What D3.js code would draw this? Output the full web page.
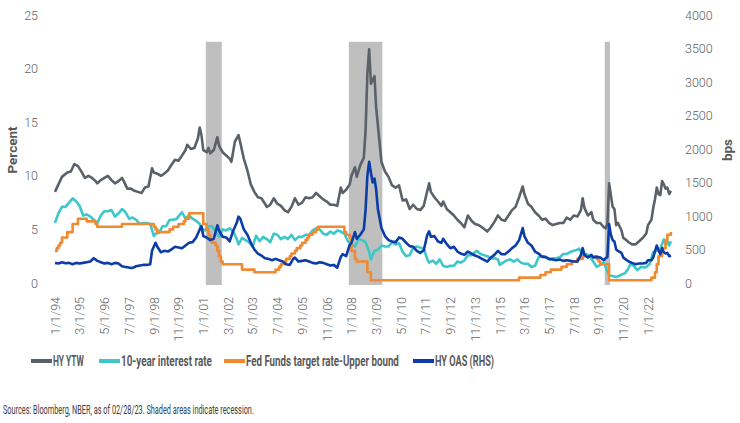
<!DOCTYPE html>
<html>
<head>
<meta charset="utf-8">
<script src="https://cdn.jsdelivr.net/npm/d3@7"></script>
<style>
  body { margin: 0; background: #fff; }
  svg { display: block; }
  text { font-family: "Liberation Sans Narrow", "Roboto", "Liberation Sans", sans-serif; }
</style>
</head>
<body>
<svg id="chart" width="740" height="423"></svg>
<script>
// HY YTW, percent (left axis)
var hyYtw = [
  ["1994-01",8.5],["1994-03",9.2],["1994-05",9.9],["1994-08",10.3],["1994-10",10.4],["1994-12",11.1],
  ["1995-02",10.9],["1995-04",10.4],["1995-06",9.8],["1995-08",10.0],["1995-10",9.8],["1995-12",9.5],
  ["1996-01",9.3],["1996-03",9.6],["1996-05",9.8],["1996-07",10.0],["1996-09",9.6],["1996-11",9.3],
  ["1997-01",9.5],["1997-03",9.8],["1997-04",9.5],["1997-06",8.8],["1997-08",8.8],["1997-10",8.6],["1997-12",8.5],
  ["1998-02",8.4],["1998-04",8.9],["1998-06",9.0],["1998-08",10.7],["1998-09",10.3],["1998-11",10.2],
  ["1999-01",10.0],["1999-03",10.2],["1999-05",10.5],["1999-07",11.0],["1999-09",11.5],["1999-11",11.4],
  ["2000-01",11.9],["2000-03",12.4],["2000-04",12.9],["2000-06",12.5],["2000-08",12.6],["2000-10",13.5],["2000-11",14.5],["2000-12",13.8],
  ["2001-01",12.4],["2001-03",12.2],["2001-04",12.6],["2001-05",12.1],["2001-07",12.4],["2001-09",13.6],["2001-10",12.8],["2001-12",12.2],
  ["2002-02",11.9],["2002-04",11.6],["2002-05",11.3],["2002-07",13.2],["2002-09",13.8],["2002-10",13.1],["2002-12",11.6],
  ["2003-02",10.5],["2003-04",9.2],["2003-06",8.5],["2003-08",8.0],["2003-10",7.9],["2003-12",7.4],
  ["2004-01",7.1],["2004-03",7.3],["2004-05",7.9],["2004-07",7.4],["2004-09",7.2],["2004-11",6.8],
  ["2005-01",6.6],["2005-03",7.1],["2005-05",7.9],["2005-07",7.3],["2005-09",7.5],["2005-11",8.0],
  ["2006-01",7.9],["2006-03",8.0],["2006-05",8.4],["2006-07",8.1],["2006-09",7.8],["2006-11",7.6],
  ["2007-01",7.3],["2007-03",7.3],["2007-05",7.2],["2007-07",8.9],["2007-08",8.4],["2007-10",8.7],["2007-12",9.2],
  ["2008-01",10.0],["2008-03",10.8],["2008-04",9.9],["2008-06",11.0],["2008-08",11.7],["2008-09",14.3],["2008-10",19.5],["2008-11",21.8],["2008-12",18.6],
  ["2009-01",18.9],["2009-02",19.3],["2009-03",16.4],["2009-05",13.0],["2009-06",11.3],["2009-08",10.4],["2009-10",9.9],["2009-12",9.1],
  ["2010-02",8.9],["2010-04",9.1],["2010-06",7.7],["2010-08",7.8],["2010-10",6.9],["2010-12",7.3],
  ["2011-02",6.9],["2011-04",6.8],["2011-06",7.2],["2011-08",8.6],["2011-09",9.3],["2011-10",8.5],["2011-12",8.0],
  ["2012-02",7.6],["2012-04",7.2],["2012-05",7.6],["2012-07",6.9],["2012-09",6.6],["2012-11",6.3],
  ["2013-01",5.9],["2013-03",5.6],["2013-05",5.2],["2013-07",6.3],["2013-09",5.8],["2013-11",5.5],
  ["2014-01",5.4],["2014-03",5.2],["2014-06",4.8],["2014-08",5.2],["2014-10",5.7],["2014-12",6.3],
  ["2015-02",5.9],["2015-04",5.8],["2015-06",6.3],["2015-08",6.8],["2015-10",7.1],["2015-12",8.0],
  ["2016-02",9.0],["2016-03",8.3],["2016-05",7.4],["2016-07",7.1],["2016-09",6.6],["2016-11",6.3],
  ["2017-01",5.9],["2017-03",6.0],["2017-05",5.6],["2017-07",5.4],["2017-09",5.5],["2017-11",5.6],
  ["2018-01",5.6],["2018-03",6.1],["2018-05",5.9],["2018-07",6.3],["2018-09",6.2],["2018-11",6.8],["2018-12",7.9],
  ["2019-01",7.0],["2019-03",6.3],["2019-05",6.6],["2019-06",5.9],["2019-08",5.6],["2019-10",5.6],["2019-12",5.2],
  ["2020-01",5.1],["2020-02",5.5],["2020-03",9.3],["2020-04",8.2],["2020-05",7.1],["2020-06",6.9],["2020-07",5.4],["2020-08",5.6],["2020-10",4.9],["2020-11",4.2],["2020-12",4.1],
  ["2021-02",3.8],["2021-04",3.6],["2021-06",3.6],["2021-08",3.9],["2021-10",4.2],["2021-12",4.6],
  ["2022-01",5.4],["2022-03",5.9],["2022-04",7.0],["2022-05",7.8],["2022-06",8.9],["2022-07",8.3],["2022-08",8.2],["2022-09",9.5],["2022-10",9.2],["2022-11",8.8],["2022-12",8.9],
  ["2023-01",8.3],["2023-02",8.6]
];

// 10-year interest rate, percent (left axis)
var tenYear = [
  ["1994-01",5.6],["1994-03",6.5],["1994-05",7.1],["1994-07",7.1],["1994-09",7.5],["1994-11",7.9],
  ["1995-01",7.6],["1995-03",7.2],["1995-05",6.3],["1995-07",6.4],["1995-09",6.2],["1995-11",5.9],
  ["1996-01",5.6],["1996-03",6.3],["1996-05",6.7],["1996-07",6.7],["1996-09",6.8],["1996-11",6.2],
  ["1997-01",6.5],["1997-03",6.9],["1997-05",6.6],["1997-07",6.0],["1997-09",6.1],["1997-11",5.9],
  ["1998-01",5.5],["1998-03",5.6],["1998-05",5.6],["1998-07",5.5],["1998-09",4.4],["1998-10",4.6],["1998-12",4.7],
  ["1999-02",5.3],["1999-04",5.3],["1999-06",5.9],["1999-08",5.9],["1999-10",6.0],["1999-12",6.4],
  ["2000-01",6.6],["2000-03",6.0],["2000-05",6.3],["2000-07",6.0],["2000-09",5.8],["2000-11",5.5],["2000-12",5.1],
  ["2001-02",4.9],["2001-04",5.3],["2001-06",5.3],["2001-08",4.8],["2001-10",4.3],["2001-12",5.0],
  ["2002-02",4.9],["2002-04",5.1],["2002-06",4.8],["2002-08",4.1],["2002-09",3.6],["2002-11",4.2],
  ["2003-01",4.0],["2003-03",3.8],["2003-05",3.4],["2003-07",4.4],["2003-09",3.9],["2003-11",4.3],
  ["2004-01",4.1],["2004-03",3.8],["2004-05",4.6],["2004-07",4.5],["2004-09",4.1],["2004-11",4.3],
  ["2005-01",4.1],["2005-03",4.5],["2005-05",4.0],["2005-07",4.3],["2005-09",4.3],["2005-11",4.5],
  ["2006-01",4.5],["2006-03",4.9],["2006-05",5.1],["2006-07",5.0],["2006-09",4.6],["2006-11",4.5],
  ["2007-01",4.8],["2007-03",4.6],["2007-05",4.9],["2007-07",4.8],["2007-09",4.6],["2007-11",3.9],
  ["2008-01",3.6],["2008-03",3.4],["2008-05",4.1],["2008-07",4.0],["2008-09",3.8],["2008-11",2.9],["2008-12",2.2],
  ["2009-02",3.0],["2009-04",3.1],["2009-06",3.5],["2009-08",3.4],["2009-10",3.4],["2009-12",3.8],
  ["2010-02",3.6],["2010-04",3.7],["2010-06",2.9],["2010-08",2.5],["2010-10",2.6],["2010-12",3.3],
  ["2011-02",3.4],["2011-04",3.3],["2011-06",3.2],["2011-08",2.2],["2011-09",1.9],["2011-11",2.1],
  ["2012-01",1.8],["2012-03",2.2],["2012-05",1.6],["2012-07",1.5],["2012-09",1.6],["2012-11",1.6],
  ["2013-01",2.0],["2013-03",1.9],["2013-05",2.1],["2013-07",2.6],["2013-09",2.6],["2013-12",3.0],
  ["2014-02",2.7],["2014-04",2.6],["2014-06",2.5],["2014-08",2.3],["2014-10",2.3],["2014-12",2.2],
  ["2015-01",1.7],["2015-03",1.9],["2015-05",2.1],["2015-07",2.2],["2015-09",2.0],["2015-11",2.2],
  ["2016-01",1.9],["2016-03",1.8],["2016-05",1.8],["2016-07",1.5],["2016-09",1.6],["2016-11",2.4],
  ["2017-01",2.5],["2017-03",2.4],["2017-05",2.2],["2017-07",2.3],["2017-09",2.3],["2017-11",2.4],
  ["2018-01",2.7],["2018-03",2.7],["2018-05",2.9],["2018-07",3.0],["2018-09",3.1],["2018-10",3.2],["2018-12",2.7],
  ["2019-02",2.7],["2019-04",2.5],["2019-06",2.0],["2019-08",1.5],["2019-10",1.7],["2019-12",1.9],
  ["2020-01",1.5],["2020-02",1.1],["2020-03",0.7],["2020-05",0.65],["2020-07",0.55],["2020-09",0.7],["2020-11",0.85],["2020-12",0.92],
  ["2021-02",1.4],["2021-03",1.74],["2021-05",1.6],["2021-07",1.2],["2021-09",1.5],["2021-11",1.45],["2021-12",1.5],
  ["2022-02",1.8],["2022-04",2.9],["2022-06",3.0],["2022-08",3.2],["2022-10",4.05],["2022-11",3.6],["2022-12",3.9],
  ["2023-01",3.5],["2023-02",3.9]
];

// Fed Funds target rate - upper bound, percent (left axis), change dates
var fedFunds = [
  ["1994-01",3.0],["1994-02",3.25],["1994-03",3.5],["1994-04",3.75],["1994-05",4.25],["1994-08",4.75],["1994-11",5.5],
  ["1995-02",6.0],["1995-07",5.75],["1995-12",5.5],["1996-01",5.25],["1997-03",5.5],
  ["1998-09",5.25],["1998-10",5.0],["1998-11",4.75],["1999-06",5.0],["1999-08",5.25],["1999-11",5.5],
  ["2000-02",5.75],["2000-03",6.0],["2000-05",6.5],
  ["2001-01",5.5],["2001-03",5.0],["2001-04",4.5],["2001-05",4.0],["2001-06",3.75],["2001-08",3.5],["2001-09",3.0],["2001-10",2.5],["2001-11",2.0],["2001-12",1.75],
  ["2002-11",1.25],["2003-06",1.0],
  ["2004-06",1.25],["2004-08",1.5],["2004-09",1.75],["2004-11",2.0],["2004-12",2.25],
  ["2005-02",2.5],["2005-03",2.75],["2005-05",3.0],["2005-06",3.25],["2005-08",3.5],["2005-09",3.75],["2005-11",4.0],["2005-12",4.25],
  ["2006-01",4.5],["2006-03",4.75],["2006-05",5.0],["2006-06",5.25],
  ["2007-09",4.75],["2007-10",4.5],["2007-12",4.25],
  ["2008-01",3.0],["2008-03",2.25],["2008-04",2.0],["2008-10",1.0],["2008-12",0.25],
  ["2015-12",0.5],["2016-12",0.75],["2017-03",1.0],["2017-06",1.25],["2017-12",1.5],
  ["2018-03",1.75],["2018-06",2.0],["2018-09",2.25],["2018-12",2.5],
  ["2019-08",2.25],["2019-09",2.0],["2019-10",1.75],["2020-03",0.25],
  ["2022-03",0.5],["2022-05",1.0],["2022-06",1.75],["2022-07",2.5],["2022-09",3.25],["2022-11",4.0],["2022-12",4.5],["2023-02",4.75]
];

// HY OAS, bps (right axis)
var hyOas = [
  ["1994-01",300],["1994-03",290],["1994-05",310],["1994-07",295],["1994-09",300],["1994-11",280],
  ["1995-01",300],["1995-03",290],["1995-05",300],["1995-07",310],["1995-09",320],["1995-11",370],
  ["1996-01",330],["1996-03",310],["1996-05",290],["1996-07",300],["1996-09",280],["1996-11",300],
  ["1997-01",290],["1997-03",250],["1997-05",240],["1997-07",230],["1997-09",225],["1997-11",250],
  ["1998-01",260],["1998-03",270],["1998-05",270],["1998-07",280],["1998-08",480],["1998-10",600],["1998-11",540],
  ["1999-01",460],["1999-03",480],["1999-05",470],["1999-07",500],["1999-09",540],["1999-11",530],
  ["2000-01",520],["2000-03",560],["2000-05",600],["2000-07",610],["2000-09",680],["2000-11",800],["2000-12",850],
  ["2001-01",700],["2001-03",680],["2001-05",640],["2001-07",660],["2001-09",860],["2001-10",780],["2001-12",690],
  ["2002-02",680],["2002-04",620],["2002-06",780],["2002-08",900],["2002-09",990],["2002-10",960],["2002-12",800],
  ["2003-02",720],["2003-04",600],["2003-06",500],["2003-08",440],["2003-10",410],["2003-12",370],
  ["2004-02",360],["2004-04",340],["2004-06",360],["2004-08",340],["2004-10",320],["2004-12",280],
  ["2005-02",270],["2005-04",360],["2005-05",380],["2005-07",320],["2005-09",330],["2005-11",340],
  ["2006-01",320],["2006-03",300],["2006-05",290],["2006-07",310],["2006-09",300],["2006-11",280],
  ["2007-01",260],["2007-03",270],["2007-05",230],["2007-07",390],["2007-08",430],["2007-10",400],["2007-12",570],
  ["2008-01",600],["2008-03",760],["2008-04",660],["2008-06",720],["2008-08",800],["2008-09",1100],["2008-10",1600],["2008-11",1810],["2008-12",1650],
  ["2009-01",1500],["2009-02",1560],["2009-03",1400],["2009-04",1100],["2009-06",820],["2009-08",700],["2009-10",640],["2009-12",620],
  ["2010-02",610],["2010-04",680],["2010-06",660],["2010-08",600],["2010-10",550],["2010-12",540],
  ["2011-02",480],["2011-04",450],["2011-06",490],["2011-08",720],["2011-09",770],["2011-10",690],["2011-12",700],
  ["2012-02",620],["2012-04",600],["2012-05",660],["2012-07",580],["2012-09",520],["2012-11",540],
  ["2013-01",470],["2013-03",440],["2013-05",420],["2013-07",470],["2013-09",440],["2013-11",410],
  ["2014-01",390],["2014-03",360],["2014-06",320],["2014-08",380],["2014-10",420],["2014-12",480],
  ["2015-02",430],["2015-04",430],["2015-06",470],["2015-08",520],["2015-10",560],["2015-12",640],
  ["2016-02",820],["2016-03",700],["2016-05",600],["2016-07",560],["2016-09",470],["2016-11",440],
  ["2017-01",390],["2017-03",390],["2017-05",360],["2017-07",350],["2017-09",340],["2017-11",350],
  ["2018-01",330],["2018-03",340],["2018-05",330],["2018-07",320],["2018-09",320],["2018-11",420],["2018-12",520],
  ["2019-01",420],["2019-03",380],["2019-05",420],["2019-06",380],["2019-08",390],["2019-10",380],["2019-12",340],
  ["2020-01",370],["2020-02",390],["2020-03",880],["2020-04",720],["2020-05",640],["2020-06",620],["2020-07",500],["2020-08",480],["2020-10",450],["2020-11",380],["2020-12",360],
  ["2021-02",320],["2021-04",300],["2021-06",280],["2021-08",290],["2021-10",290],["2021-12",300],
  ["2022-01",340],["2022-03",340],["2022-04",380],["2022-05",470],["2022-06",560],["2022-07",490],["2022-08",430],["2022-09",520],["2022-10",460],["2022-11",440],["2022-12",450],
  ["2023-01",400],["2023-02",410]
];

// recessions (first and last month), shaded up to 3600 bps on the right axis
var recessions = [["2001-03","2001-11"],["2007-12","2009-06"],["2020-01","2020-03"]];
var recessionTop = 3600;

var xTicks = ["1994-01","1995-03","1996-05","1997-07","1998-09","1999-11","2001-01","2002-03","2003-05",
  "2004-07","2005-09","2006-11","2008-01","2009-03","2010-05","2011-07","2012-09","2013-11","2015-01",
  "2016-03","2017-05","2018-07","2019-09","2020-11","2022-01"];
var leftTicks = [0, 5, 10, 15, 20, 25];
var rightTicks = [0, 500, 1000, 1500, 2000, 2500, 3000, 3500, 4000];

var seriesNames = ["HY YTW", "10-year interest rate", "Fed Funds target rate-Upper bound", "HY OAS (RHS)"];
var colors = ["#5a6169", "#3cc7c9", "#f08a30", "#0b3ca8"];

var parse = d3.timeParse("%Y-%m");
var svg = d3.select("#chart");

var x = d3.scaleTime()
    .domain([parse("1994-01"), parse("2022-01")])
    .range([55, 648]);
var yL = d3.scaleLinear().domain([0, 25]).range([283, 15]);
var yR = d3.scaleLinear().domain([0, 4000]).range([283, 15]);

// squeeze a text horizontally to a target width (narrow Calibri-like look)
function fitWidth(sel, w) {
  var n = sel.node().getComputedTextLength();
  var k = w / n;
  var x0 = +sel.attr("x"), y0 = +sel.attr("y");
  sel.attr("x", 0).attr("y", 0)
     .attr("transform", "translate(" + x0 + "," + y0 + ") scale(" + k + ",1)");
}

// recession shading
svg.append("g")
  .selectAll("rect")
  .data(recessions)
  .enter().append("rect")
    .attr("x", function(d) { return x(d3.timeDay.offset(parse(d[0]), -15)); })
    .attr("width", function(d) {
      return x(d3.timeDay.offset(parse(d[1]), 15)) - x(d3.timeDay.offset(parse(d[0]), -15));
    })
    .attr("y", yR(recessionTop))
    .attr("height", yR(0) - yR(recessionTop) + 2)
    .attr("fill", "#bfbfbf");

// axes
var lAxis = svg.append("g")
    .attr("transform", "translate(44,0)")
    .call(d3.axisLeft(yL).tickValues(leftTicks).tickSize(0).tickPadding(6));
var rAxis = svg.append("g")
    .attr("transform", "translate(679,0)")
    .call(d3.axisRight(yR).tickValues(rightTicks).tickSize(0).tickPadding(6).tickFormat(d3.format("d")));
var xAxis = svg.append("g")
    .attr("transform", "translate(0,283)")
    .call(d3.axisBottom(x).tickValues(xTicks.map(parse)).tickSize(0).tickFormat(d3.timeFormat("%-m/%-d/%y")));

[lAxis, rAxis, xAxis].forEach(function(a) {
  a.select(".domain").remove();
  a.selectAll("text").attr("fill", "#5f5f5f").style("font-size", "12.5px")
    .style("font-family", "Roboto, sans-serif").style("font-weight", "300");
});
xAxis.selectAll("text")
    .attr("y", 0)
    .attr("x", -14)
    .attr("dy", "0.35em")
    .attr("transform", "rotate(-90)")
    .style("text-anchor", "end");

// axis titles
svg.append("text")
    .attr("transform", "translate(17,150) rotate(-90)")
    .attr("text-anchor", "middle")
    .attr("fill", "#595959")
    .style("font-size", "13.5px").style("font-weight", "bold")
    .text("Percent");
svg.append("text")
    .attr("transform", "translate(732,150) rotate(-90)")
    .attr("text-anchor", "middle")
    .attr("fill", "#595959")
    .style("font-size", "13.5px").style("font-weight", "bold")
    .text("bps");

// lines
var lineL = d3.line()
    .x(function(d) { return x(parse(d[0])); })
    .y(function(d) { return yL(d[1]); });
var stepL = d3.line()
    .curve(d3.curveStepAfter)
    .x(function(d) { return x(parse(d[0])); })
    .y(function(d) { return yL(d[1]); });
var lineR = d3.line()
    .x(function(d) { return x(parse(d[0])); })
    .y(function(d) { return yR(d[1]); });

var paths = [[hyYtw, lineL], [tenYear, lineL], [fedFunds, stepL], [hyOas, lineR]];
paths.forEach(function(p, i) {
  svg.append("path")
      .datum(p[0])
      .attr("d", p[1])
      .attr("fill", "none")
      .attr("stroke", colors[i])
      .attr("stroke-width", 2.6)
      .attr("stroke-linejoin", "round");
});

// legend
var legendX = [31, 99, 224, 413];
var legendW = [31, 91, 153, 59];
var legend = svg.append("g").attr("transform", "translate(0,361)");
seriesNames.forEach(function(name, i) {
  legend.append("line")
      .attr("x1", legendX[i]).attr("x2", legendX[i] + 21)
      .attr("y1", 0).attr("y2", 0)
      .attr("stroke", colors[i]).attr("stroke-width", 4);
  var t = legend.append("text")
      .attr("x", legendX[i] + 22)
      .attr("y", 5)
      .attr("fill", "#595959")
      .style("font-size", "14px").style("font-weight", "bold")
      .text(name);
  fitWidth(t, legendW[i]);
});

// source note
var src = svg.append("text")
    .attr("x", 3)
    .attr("y", 414)
    .attr("fill", "#404040")
    .style("font-size", "12px")
    .text("Sources: Bloomberg, NBER, as of 02/28/23. Shaded areas indicate recession.");
fitWidth(src, 251);
</script>
</body>
</html>
